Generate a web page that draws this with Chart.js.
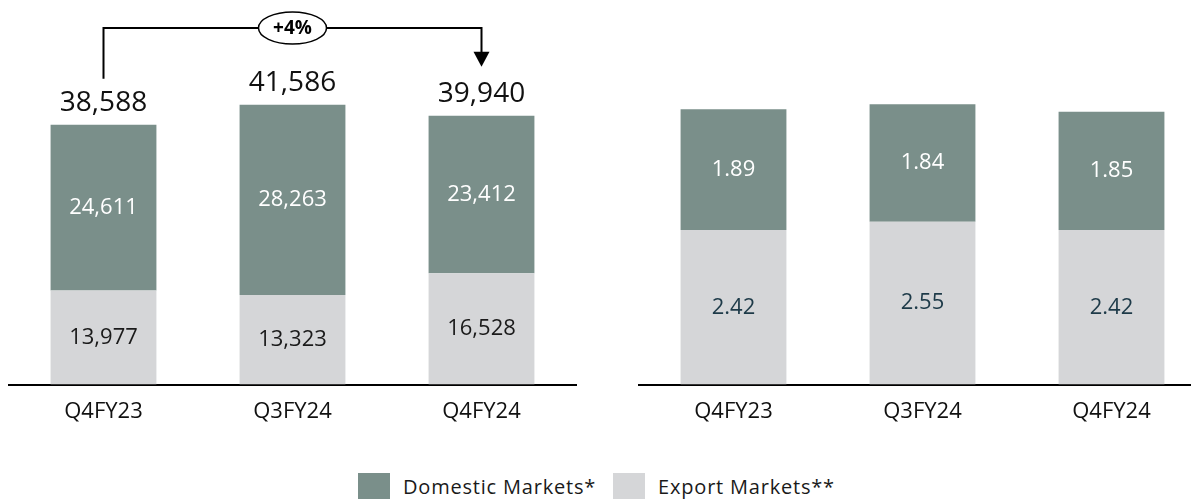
<!DOCTYPE html>
<html>
<head>
<meta charset="utf-8">
<script src="https://cdn.jsdelivr.net/npm/chart.js@4"></script>
<style>
  html, body { margin: 0; padding: 0; background: #fff; overflow: hidden; }
  #page { position: relative; width: 1191px; height: 503px; overflow: hidden; font-family: "Open Sans", sans-serif; }
  .panel { position: absolute; top: 0; width: 600px; height: 441px; }
  #legend { position: absolute; top: 473px; left: 358px; height: 26px; display: flex; align-items: center; font-size: 20px; letter-spacing: 0.8px; color: #1a1a1a; }
  #legend .box { width: 32px; height: 26px; margin-right: 13px; }
  #legend .item { display: flex; align-items: center; margin-right: 17px; }
</style>
</head>
<body>
<div id="page">
  <div class="panel" style="left:0"><canvas id="volume-chart"></canvas></div>
  <div class="panel" style="left:630px"><canvas id="share-chart"></canvas></div>
  <div id="legend">
    <div class="item"><div class="box" style="background:#7a8f8a"></div>Domestic Markets*</div>
    <div class="item"><div class="box" style="background:#d5d6d8"></div>Export Markets**</div>
  </div>
</div>
<script>
const quarters = ['Q4FY23', 'Q3FY24', 'Q4FY24'];
const domesticVolume = [24611, 28263, 23412];
const exportVolume = [13977, 13323, 16528];
const domesticShare = [1.89, 1.84, 1.85];
const exportShare = [2.42, 2.55, 2.42];
const growthText = '+4%';

const DOMESTIC_COLOR = '#7a8f8a';
const EXPORT_COLOR = '#d5d6d8';
const FONT = '"Open Sans", sans-serif';

// 棒の中央に値を書くプラグイン
function segmentLabels(format, exportColor) {
    return {
        id: 'segmentLabels',
        afterDatasetsDraw(chart) {
            const ctx = chart.ctx;
            ctx.save();
            ctx.font = '22px ' + FONT;
            ctx.textAlign = 'center';
            ctx.textBaseline = 'middle';
            chart.data.datasets.forEach((ds, i) => {
                chart.getDatasetMeta(i).data.forEach((bar, j) => {
                    ctx.fillStyle = ds.label.startsWith('Export') ? exportColor : '#ffffff';
                    ctx.fillText(format(ds.data[j]), bar.x, (bar.y + bar.base) / 2);
                });
            });
            ctx.restore();
        }
    };
}

// 合計値と前年同期比の矢印（左のグラフのみ）
const totalsAndArrow = {
    id: 'totalsAndArrow',
    afterDraw(chart) {
        const ctx = chart.ctx;
        const tops = chart.getDatasetMeta(1).data;
        ctx.save();
        ctx.font = '28px ' + FONT;
        ctx.fillStyle = '#111';
        ctx.textAlign = 'center';
        ctx.textBaseline = 'middle';
        quarters.forEach((q, i) => {
            const total = domesticVolume[i] + exportVolume[i];
            ctx.fillText(total.toLocaleString('en-US'), tops[i].x, tops[i].y - 22);
        });

        const x0 = tops[0].x, x1 = tops[1].x, x2 = tops[2].x;
        const yLine = 28;
        const yStart = tops[0].y - 46;
        const yTip = tops[2].y - 49;
        ctx.strokeStyle = '#000';
        ctx.lineWidth = 2;
        ctx.beginPath();
        ctx.moveTo(x0, yStart);
        ctx.lineTo(x0, yLine);
        ctx.lineTo(x2, yLine);
        ctx.lineTo(x2, yTip - 14);
        ctx.stroke();
        ctx.fillStyle = '#000';
        ctx.beginPath();
        ctx.moveTo(x2 - 8, yTip - 15);
        ctx.lineTo(x2 + 8, yTip - 15);
        ctx.lineTo(x2, yTip);
        ctx.closePath();
        ctx.fill();

        ctx.beginPath();
        ctx.ellipse(x1, yLine, 34, 16, 0, 0, Math.PI * 2);
        ctx.fillStyle = '#fff';
        ctx.fill();
        ctx.lineWidth = 1.5;
        ctx.stroke();
        ctx.fillStyle = '#000';
        ctx.font = 'bold 19px ' + FONT;
        ctx.fillText(growthText, x1, yLine + 1);
        ctx.restore();
    }
};

function renderStackedBars(canvasId, exportData, domesticData, yMax, plugins) {
    const ctx = document.getElementById(canvasId).getContext('2d');
    return new Chart(ctx, {
        type: 'bar',
        data: {
            labels: quarters,
            datasets: [
                { label: 'Export Markets**', data: exportData, backgroundColor: EXPORT_COLOR },
                { label: 'Domestic Markets*', data: domesticData, backgroundColor: DOMESTIC_COLOR }
            ]
        },
        options: {
            maintainAspectRatio: false,
            animation: false,
            layout: { padding: { left: 9, right: 24, top: 48, bottom: 2 } },
            datasets: { bar: { categoryPercentage: 1, barPercentage: 0.56 } },
            scales: {
                x: {
                    stacked: true,
                    grid: { display: false, drawTicks: false },
                    border: { color: '#000', width: 2 },
                    ticks: { color: '#111', font: { family: FONT, size: 22 }, padding: 14 }
                },
                y: { stacked: true, display: false, min: 0, max: yMax }
            },
            plugins: { legend: { display: false }, tooltip: { enabled: false } }
        },
        plugins: plugins
    });
}

renderStackedBars('volume-chart', exportVolume, domesticVolume, 50000, [
    segmentLabels(v => v.toLocaleString('en-US'), '#1a1a1a'),
    totalsAndArrow
]);
renderStackedBars('share-chart', exportShare, domesticShare, 5.27, [
    segmentLabels(v => v.toFixed(2), '#1d3a48')
]);
</script>
</body>
</html>
